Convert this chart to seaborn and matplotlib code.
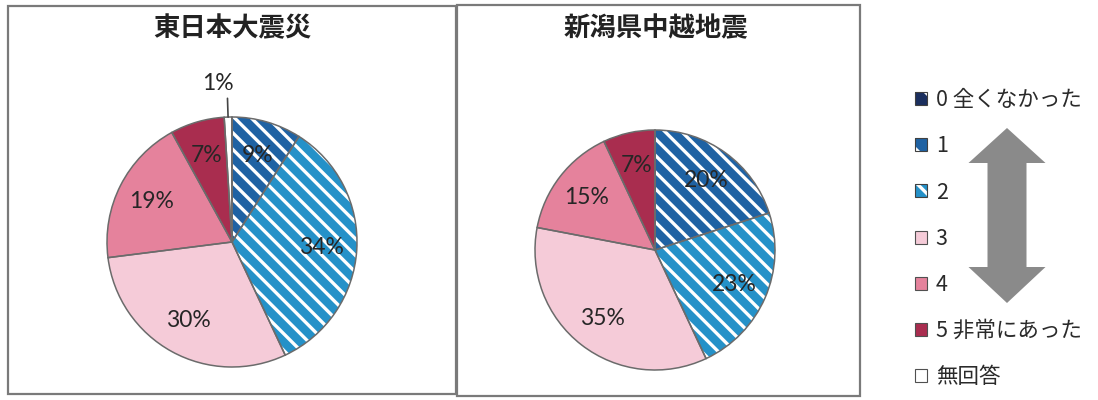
import matplotlib
matplotlib.use('Agg')
import numpy as np
import matplotlib.pyplot as plt
import seaborn as sns
from matplotlib.patches import Rectangle, Polygon, Patch
from matplotlib.legend_handler import HandlerTuple

# ---- data ----
categories = ['0 全くなかった', '1', '2', '3', '4', '5 非常にあった', '無回答']
east_japan = [0, 9, 34, 30, 19, 7, 1]
niigata = [0, 20, 23, 35, 15, 7, 0]
titles = ['東日本大震災', '新潟県中越地震']

colors = ['#1b2f5e', '#1f62a3', '#2591c8', '#f5cbd8', '#e5829c', '#a92d4f', '#ffffff']
hatched = [True, True, True, False, False, False, False]

sns.set_theme(style='white')
plt.rcParams['font.family'] = ['Lato', 'Noto Sans CJK JP', 'DejaVu Sans']
plt.rcParams['hatch.linewidth'] = 2.4

fig = plt.figure(figsize=(10.98, 4), dpi=100)


def fx(px):
    return px / 1098


def fy(py):
    return 1 - py / 400


# panel frames
for (x0, y0, x1, y1) in [(8, 6, 456, 394), (457, 5, 860, 396)]:
    fig.add_artist(Rectangle((fx(x0), fy(y1)), fx(x1 - x0), (y1 - y0) / 400,
                             transform=fig.transFigure, fill=False,
                             ec='#7a7a7a', lw=1.6))


def draw_pie(values, rect):
    ax = fig.add_axes(rect)
    wedges, texts, autotexts = ax.pie(
        values, colors=colors, startangle=90, counterclock=False,
        autopct=lambda p: f'{p:.0f}%' if p >= 2 else '',
        pctdistance=0.72,
        wedgeprops=dict(linewidth=0, edgecolor='white'),
        textprops=dict(fontsize=16.5, color='#262626', family=['Lato']))
    for w, h in zip(wedges, hatched):
        if h:
            w.set_hatch('\\\\')
            w.set_edgecolor('white')
    ax.pie(values, startangle=90, counterclock=False,
           colors=['none'] * len(values),
           wedgeprops=dict(fill=False, linewidth=1.1, edgecolor='#6b6b6b'))
    total = sum(values)
    for w, v in zip(wedges, values):
        if 0 < v / total * 100 < 2:
            ang = np.deg2rad((w.theta1 + w.theta2) / 2)
            x, y = np.cos(ang), np.sin(ang)
            ax.plot([x * 1.0, x * 1.15], [y * 1.0, y * 1.15], color='#444444',
                    lw=1.2, clip_on=False)
            ax.text(x * 1.15 + 0.05, 1.27, f'{v}%', ha='right', va='center',
                    fontsize=16.5, color='#262626', family=['Lato'])
    ax.set_xlim(-1, 1)
    ax.set_ylim(-1, 1)
    ax.set_aspect('equal')
    ax.axis('off')
    return wedges


draw_pie(east_japan, [fx(107), fy(367), 250 / 1098, 250 / 400])
draw_pie(niigata, [fx(535), fy(370), 240 / 1098, 240 / 400])

fig.text(fx(232), fy(29), titles[0], ha='center', va='center', fontsize=19,
         fontweight='bold', color='#222222', family=['Noto Sans CJK JP'])
fig.text(fx(656), fy(29), titles[1], ha='center', va='center', fontsize=19,
         fontweight='bold', color='#222222', family=['Noto Sans CJK JP'])

# legend
handles = []
for c, h in zip(colors, hatched):
    if h:
        handles.append((Patch(fc=c, hatch='\\', ec='white', lw=0),
                        Patch(fill=False, ec='#404040', lw=0.8)))
    else:
        handles.append(Patch(fc=c, ec='#505050', lw=0.8))
fig.legend(handles, categories, loc='upper left',
           bbox_to_anchor=(fx(896), fy(70)), frameon=False,
           prop={'family': ['Noto Sans CJK JP'], 'size': 15.5},
           handlelength=0.55, handleheight=0.55, handletextpad=0.4,
           labelspacing=1.12, labelcolor='#2a2a2a',
           handler_map={tuple: HandlerTuple(ndivide=1)})

# double arrow
pts_px = [(1007, 128), (1045.5, 163), (1026.5, 163), (1026.5, 267), (1045.5, 267),
          (1007, 303), (968.5, 267), (987.5, 267), (987.5, 163), (968.5, 163)]
fig.add_artist(Polygon([(fx(a), fy(b)) for a, b in pts_px], closed=True,
                       transform=fig.transFigure, fc='#8a8a8a', ec='none'))

fig.savefig('out.png', dpi=100)
